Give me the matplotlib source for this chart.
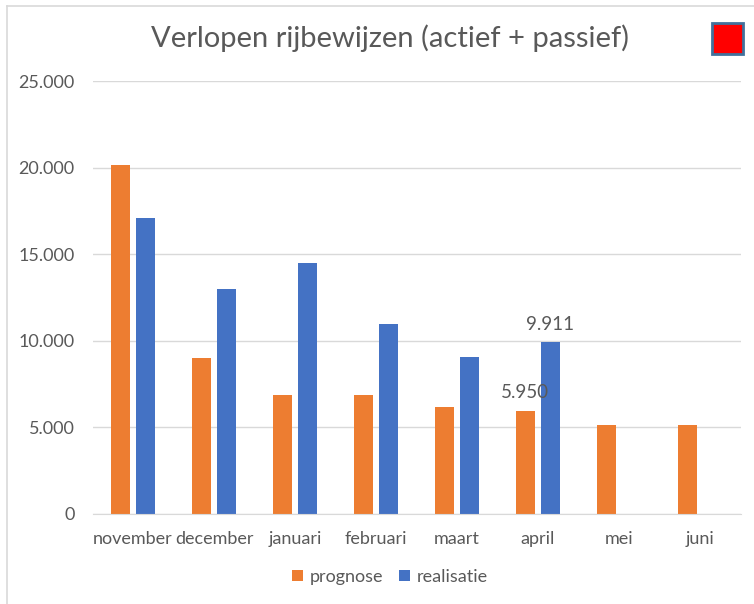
import numpy as np
import matplotlib.pyplot as plt
from matplotlib.lines import Line2D
from matplotlib.patches import Rectangle
from matplotlib.ticker import FuncFormatter

maanden = ["november", "december", "januari", "februari", "maart", "april", "mei", "juni"]
prognose = [20150, 9000, 6870, 6870, 6150, 5950, 5150, 5150]
realisatie = [17100, 13000, 14500, 10970, 9060, 9911, np.nan, np.nan]

oranje = "#ED7D31"
blauw = "#4472C4"
grijs = "#595959"

plt.rcParams["font.family"] = ["Lato", "DejaVu Sans"]

fig = plt.figure(figsize=(7.54, 6.04), dpi=100)
ax = fig.add_axes([92.5 / 754, 1 - 514 / 604, (740.5 - 92.5) / 754, (514 - 81) / 604])

x = np.arange(len(maanden))
w = 0.235
off = 0.155
b1 = ax.bar(x - off, prognose, width=w, color=oranje, label="prognose", zorder=3)
b2 = ax.bar(x + off, realisatie, width=w, color=blauw, label="realisatie", zorder=3)

# data labels only for april
i = maanden.index("april")
ax.annotate(f"{prognose[i]:,}".replace(",", "."), (x[i] - off, prognose[i]), xytext=(0, 7),
            textcoords="offset points", ha="center", va="bottom", fontsize=13.5, color=grijs, zorder=4)
ax.annotate(f"{realisatie[i]:,}".replace(",", "."), (x[i] + off, realisatie[i]), xytext=(0, 7),
            textcoords="offset points", ha="center", va="bottom", fontsize=13.5, color=grijs, zorder=4)

ax.set_xlim(-0.5, len(maanden) - 0.5)
ax.set_ylim(0, 25000)
ax.set_yticks(np.arange(0, 25001, 5000))
ax.yaxis.set_major_formatter(FuncFormatter(lambda v, p: f"{int(v):,}".replace(",", ".")))
ax.set_xticks(x)
ax.set_xticklabels(maanden)
ax.tick_params(axis="both", length=0, labelsize=13, colors=grijs)
ax.tick_params(axis="x", pad=12)
ax.tick_params(axis="y", pad=13)
ax.grid(axis="y", color="#D9D9D9", linewidth=1, zorder=0)
for s in ["top", "right", "left"]:
    ax.spines[s].set_visible(False)
ax.spines["bottom"].set_color("#D9D9D9")
ax.spines["bottom"].set_zorder(4)

fig.text(390 / 754, 1 - 38 / 604, "Verlopen rijbewijzen (actief + passief)", ha="center", va="center",
         fontsize=21, color=grijs)

fig.legend(handles=[b1, b2], loc="center", bbox_to_anchor=(390 / 754, 1 - 577 / 604), ncol=2,
           frameon=False, fontsize=13, labelcolor=grijs, handlelength=0.6, handleheight=0.6,
           handletextpad=0.4, columnspacing=0.85)

# red square top right
fig.patches.append(Rectangle((712 / 754, 1 - 54 / 604), 31 / 754, 31 / 604, transform=fig.transFigure,
                             facecolor="#FF0000", edgecolor="#41719C", linewidth=2))

# chart frame (left and top edge)
fig.lines.append(Line2D([7 / 754, 7 / 754], [0, 1 - 6 / 604], transform=fig.transFigure, color="#D9D9D9", linewidth=1.2))
fig.lines.append(Line2D([7 / 754, 1], [1 - 6 / 604, 1 - 6 / 604], transform=fig.transFigure, color="#D9D9D9", linewidth=1.2))

fig.savefig("out.png", dpi=100)
